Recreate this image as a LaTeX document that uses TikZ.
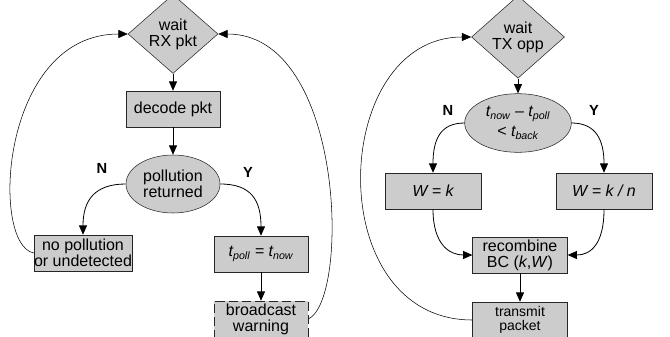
\documentclass[tikz,border=0pt]{standalone}
\usepackage{fontspec}
\setmainfont{Liberation Sans}
\usetikzlibrary{shapes.geometric,arrows.meta}
\definecolor{boxgray}{gray}{0.8}

\begin{document}
\begin{tikzpicture}[x=0.75pt,y=-0.75pt,
	font=\fontsize{12}{12}\selectfont,
	blk/.style={draw=black!85,fill=boxgray,rectangle,minimum width=70.5pt,minimum height=27pt,inner sep=0pt,align=center},
	dmd/.style={draw=black!85,fill=boxgray,diamond,inner sep=0pt,align=center},
	ell/.style={draw=black!85,fill=boxgray,ellipse,inner sep=0pt,align=center},
	arr/.style={-{Triangle[length=7pt,width=6pt]},semithick},
	backloop/.style={-{Triangle[length=7pt,width=6pt]},thin},
	lbl/.style={font=\fontsize{11}{12}\selectfont\bfseries}]
			\useasboundingbox (0,0) rectangle (670,336);
			\node[dmd,minimum width=67.5pt,minimum height=43.5pt] (rxwait) at (173,34) {wait\\RX pkt};
			\node[blk] (decode) at (173,109) {decode pkt};
			\node[ell,minimum width=70.5pt,minimum height=43.5pt] (polret) at (173,184) {pollution\\returned};
			\node[blk] (nopoll) at (83,253) {no pollution\\or undetected};
			\node[blk] (tpoll) at (261,254) {\itshape t\textsubscript{poll} = t\textsubscript{now}};
			\node[blk,dash pattern=on 7pt off 3pt] (bcast) at (261,319) {broadcast\\warning};
			\node[lbl] (nleft) at (102,168) {N};
			\node[lbl] (yleft) at (248,172) {Y};
			\draw[arr] (rxwait) -- (decode);
			\draw[arr] (decode) -- (polret);
			\draw[arr] (polret.west) .. controls (95,184) and (83,200) .. (nopoll.north);
			\draw[arr] (polret.east) .. controls (251,184) and (261,200) .. (tpoll.north);
			\draw[arr] (tpoll) -- (bcast);
			\draw[backloop] (nopoll.west) .. controls (-10,245) and (0,34) .. (rxwait.west);
			\draw[backloop] (bcast.east) .. controls (350,300) and (345,34) .. (rxwait.east);
			\node[dmd,minimum width=69.75pt,minimum height=46.5pt] (txwait) at (518,37) {wait\\TX opp};
			\node[ell,minimum width=80pt,minimum height=44pt] (tcheck) at (518,123) {\itshape t\textsubscript{now} -- t\textsubscript{poll}\\[3pt]< \itshape t\textsubscript{back}};
			\node[blk,minimum width=72pt] (wk) at (433,191) {\itshape W = k};
			\node[blk,minimum width=72pt] (wkn) at (604,191) {\itshape W = k / n};
			\node[blk,minimum width=71pt] (recomb) at (520,255) {recombine\\BC (\textit{k},\textit{W})};
			\node[blk,minimum width=71pt,font=\fontsize{10.5}{11}\selectfont] (xmit) at (520,320) {transmit\\packet};
			\node[lbl] (nright) at (448,110) {N};
			\node[lbl] (yright) at (594,110) {Y};
			\draw[arr] (txwait) -- (tcheck);
			\draw[arr] (tcheck.west) .. controls (440,123) and (433,140) .. (wk.north);
			\draw[arr] (tcheck.east) .. controls (596,123) and (604,140) .. (wkn.north);
			\draw[arr] (wk.south) .. controls (433,245) and (450,255) .. (recomb.west);
			\draw[arr] (wkn.south) .. controls (604,245) and (590,255) .. (recomb.east);
			\draw[arr] (recomb) -- (xmit);
			\draw[backloop] (xmit.west) .. controls (320,320) and (330,37) .. (txwait.west);
		\end{tikzpicture}
\end{document}
